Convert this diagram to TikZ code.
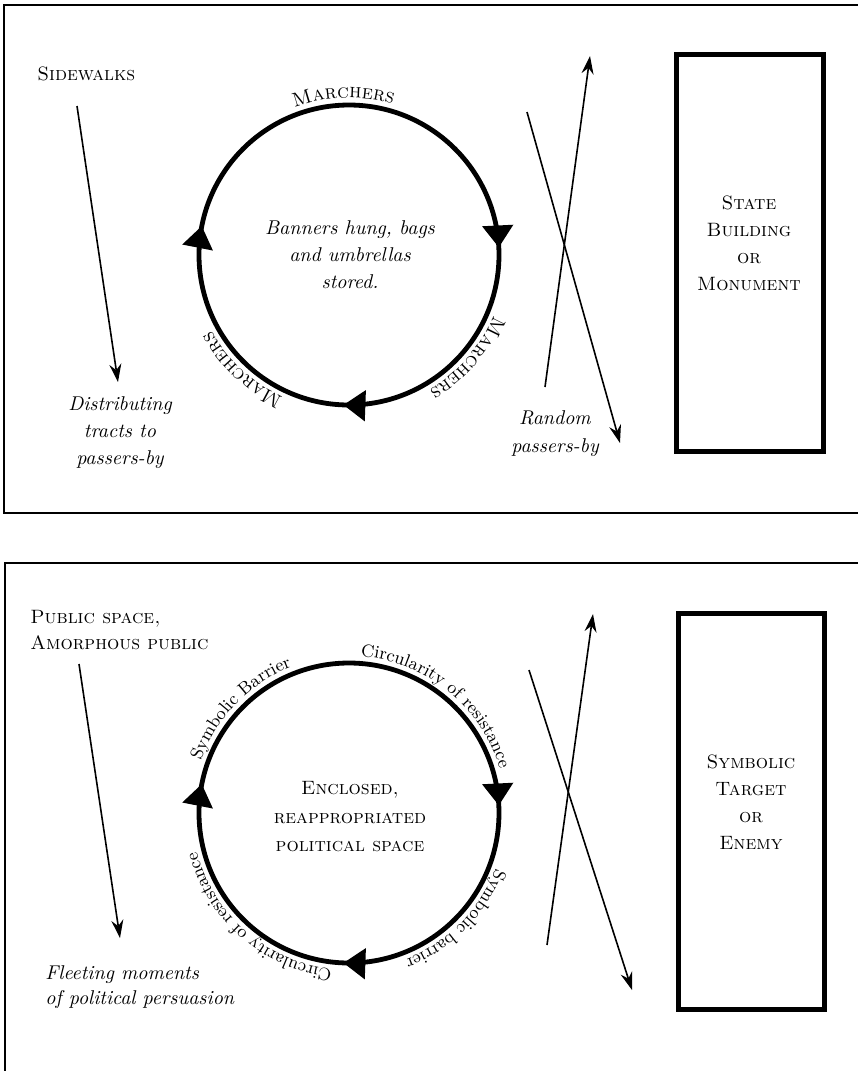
\documentclass[tikz,border=0pt]{standalone}
\usepackage{fontspec}
\usetikzlibrary{arrows.meta,decorations.markings,decorations.text}
\newcommand\arcsc{\fontsize{10}{12}\selectfont\scshape}
\newcommand\arcrm{\fontsize{8.9}{11}\selectfont}
\newcommand\ringlabel[4]{%
  \path[decorate,decoration={text along path,text={#4},text align=center}]
    (#1) ++(#2+70:#3) arc[start angle=#2+70, end angle=#2-70, radius=#3];}
\begin{document}
\begin{tikzpicture}[x=0.5bp,y=0.5bp,
  panel/.style={line width=1.1bp},
  ring/.style={line width=2.4bp, postaction={decorate}, decoration={markings,
     mark=at position 0.031 with {\arrow{Triangle[length=11bp,width=15bp]}},
     mark=at position 0.492 with {\arrow{Triangle[length=11bp,width=15bp]}},
     mark=at position 0.756 with {\arrow{Triangle[length=11bp,width=15bp]}}}},
  thinarrow/.style={line width=0.8bp, -{Stealth[length=9bp,width=6bp,inset=3bp]}},
  building/.style={draw, line width=2.5bp, inner sep=0pt},
  sclbl/.style={font=\fontsize{9.7}{13.5}\selectfont\scshape, inner sep=0pt},
  itlbl/.style={font=\fontsize{10}{13.5}\selectfont\itshape, inner sep=0pt},
]
\clip (0,0) rectangle (858,-1071);
% ---------- panels ----------
\draw[panel] (4,-5) rectangle (880,-513);
\draw[panel] (5,-563) rectangle (880,-1090);

% ================= TOP PANEL =================
\coordinate (c1) at (349,-255);
\draw[ring] (c1) ++(180:150) arc[start angle=180, end angle=-180, radius=150];
\ringlabel{c1}{92}{157}{|\arcsc|Marchers}
\ringlabel{c1}{-41}{157}{|\arcsc|Marchers}
\ringlabel{c1}{-133}{157}{|\arcsc|Marchers}

\node[itlbl, align=center] (inner1) at (350,-255) {Banners hung, bags\\and umbrellas\\stored.};

\node[sclbl, anchor=base west] (side) at (37,-80) {Sidewalks};
\coordinate (s1a) at (77,-106);
\coordinate (s1b) at (118,-382);
\draw[thinarrow] (s1a) -- (s1b);
\node[itlbl, align=center] (dist) at (120,-433) {Distributing\\tracts to\\passers-by};

\coordinate (u1a) at (545,-387);
\coordinate (u1b) at (590,-56);
\coordinate (d1a) at (527,-112);
\coordinate (d1b) at (620,-443);
\draw[thinarrow] (u1a) -- (u1b);
\draw[thinarrow] (d1a) -- (d1b);
\node[itlbl, align=center, font=\fontsize{10}{14}\selectfont\itshape] (rand) at (555,-434) {Random\\passers-by};

\node[building, minimum width=73.5bp, minimum height=198.5bp] (bld1) at (750,-253) {};
\node[sclbl, align=center] (bld1t) at (749,-243) {State\\Building\\or\\Monument};

% ================= BOTTOM PANEL =================
\coordinate (c2) at (349,-813);
\draw[ring] (c2) ++(180:150) arc[start angle=180, end angle=-180, radius=150];
\ringlabel{c2}{51}{157}{|\arcrm|Circularity of resistance}
\ringlabel{c2}{-45}{157}{|\arcrm|Symbolic barrier}
\ringlabel{c2}{-131}{157}{|\arcrm|Circularity of resistance}
\ringlabel{c2}{136}{157}{|\arcrm|Symbolic Barrier}

\node[sclbl, align=center, font=\fontsize{9.7}{14.3}\selectfont\scshape] (inner2) at (350,-817) {Enclosed,\\reappropriated\\political space};

\node[sclbl, align=left, anchor=west] (pub) at (30,-630) {Public space,\\Amorphous public};
\coordinate (s2a) at (79,-664);
\coordinate (s2b) at (120,-938);
\draw[thinarrow] (s2a) -- (s2b);
\node[itlbl, align=left, anchor=west, font=\fontsize{10}{12.5}\selectfont\itshape] (fleet) at (45,-987) {Fleeting moments\\of political persuasion};

\coordinate (u2a) at (547,-945);
\coordinate (u2b) at (593,-614);
\coordinate (d2a) at (529,-670);
\coordinate (d2b) at (632,-990);
\draw[thinarrow] (u2a) -- (u2b);
\draw[thinarrow] (d2a) -- (d2b);

\node[building, minimum width=73bp, minimum height=198bp] (bld2) at (751.5,-811.5) {};
\node[sclbl, align=center] (bld2t) at (751,-802) {Symbolic\\Target\\or\\Enemy};
\end{tikzpicture}
\end{document}
